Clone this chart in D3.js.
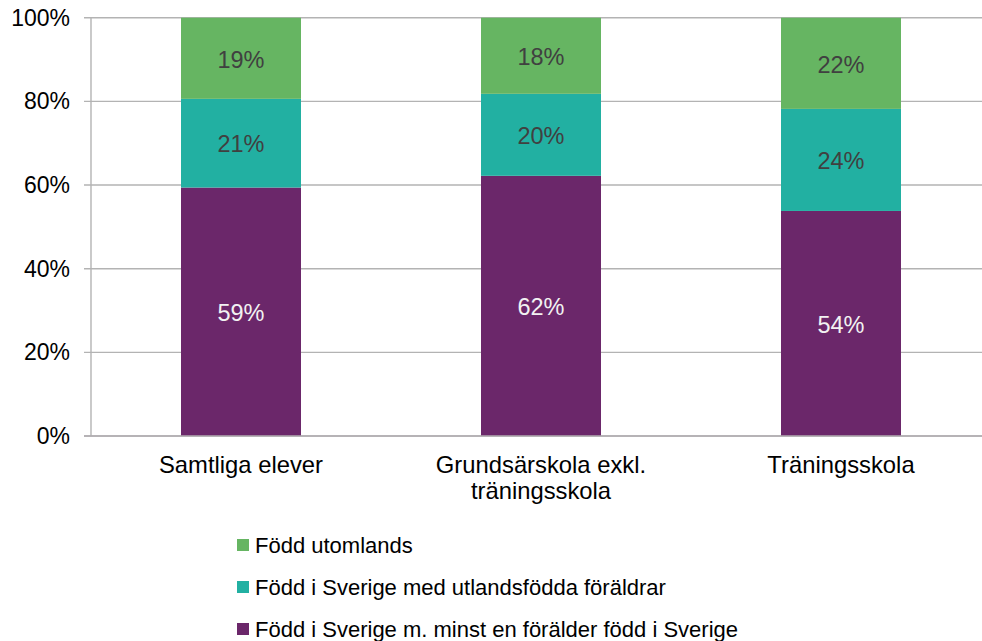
<!DOCTYPE html>
<html><head><meta charset="utf-8">
<script src="https://cdn.jsdelivr.net/npm/d3@7/dist/d3.min.js"></script>
<style>
html,body{margin:0;padding:0;background:#fff;}
svg text{font-family:"Liberation Sans",Arial,sans-serif;}
</style></head>
<body><svg id="c" width="982" height="641"></svg>
<script>
const categories = [["Samtliga elever"], ["Grundsärskola exkl.", "träningsskola"], ["Träningsskola"]];
const seriesNames = ["Född i Sverige m. minst en förälder född i Sverige", "Född i Sverige med utlandsfödda föräldrar", "Född utomlands"];
const seriesColors = ["#6b276a", "#22b0a2", "#66b562"];
const labelColors = ["#f2f2f2", "#404040", "#404040"];
const bornSwedenParent = [59.4, 62.2, 53.8];
const bornSwedenForeign = [21.2, 19.6, 24.4];
const bornAbroad = [19.4, 18.2, 21.8];
const yTicks = [0, 20, 40, 60, 80, 100];

const series = [bornSwedenParent, bornSwedenForeign, bornAbroad];
const svg = d3.select("#c");
const m = {l: 91, t: 17.7, b: 436};
const x = d3.scaleBand().domain(d3.range(categories.length)).range([m.l, m.l + 900]).paddingInner(0.6).paddingOuter(0.3);
const y = d3.scaleLinear().domain([0, 100]).range([m.b, m.t]);

// gridlines
svg.append("g").selectAll("line").data(yTicks).join("line")
  .attr("x1", m.l - 7).attr("x2", 982)
  .attr("y1", d => y(d)).attr("y2", d => y(d))
  .attr("stroke", "#b3b3b3").attr("stroke-width", 1.4);
// y axis line
svg.append("line").attr("x1", m.l).attr("x2", m.l).attr("y1", y(100)).attr("y2", y(0))
  .attr("stroke", "#b3b3b3").attr("stroke-width", 1.4);

// tick labels
svg.append("g").selectAll("text").data(yTicks).join("text")
  .attr("x", 70).attr("y", d => y(d)).attr("dy", "0.35em")
  .attr("text-anchor", "end").attr("font-size", 23).attr("fill", "#000")
  .text(d => d + "%");

// stacked bars
const stackData = categories.map((c, i) => {
  let acc = 0;
  return series.map((s, k) => { const r = {i, k, y0: acc, y1: acc + s[i], v: s[i]}; acc += s[i]; return r; });
}).flat();

svg.append("g").selectAll("rect").data(stackData).join("rect")
  .attr("x", d => x(d.i)).attr("width", x.bandwidth())
  .attr("y", d => y(Math.min(100, d.y1))).attr("height", d => y(d.y0) - y(Math.min(100, d.y1)))
  .attr("fill", d => seriesColors[d.k]);

svg.append("g").selectAll("text").data(stackData).join("text")
  .attr("x", d => x(d.i) + x.bandwidth() / 2)
  .attr("y", d => (y(d.y0) + y(Math.min(100, d.y1))) / 2 + 1).attr("dy", "0.35em")
  .attr("text-anchor", "middle").attr("font-size", 23.5).attr("fill", d => labelColors[d.k])
  .text(d => Math.round(d.v) + "%");

// redraw zero line on top
svg.append("line").attr("x1", m.l - 7).attr("x2", 982).attr("y1", y(0)).attr("y2", y(0))
  .attr("stroke", "#b0acb0").attr("stroke-width", 1.4);

// category labels
const cl = svg.append("g").selectAll("text").data(categories).join("text")
  .attr("x", (d, i) => x(i) + x.bandwidth() / 2).attr("y", 473)
  .attr("text-anchor", "middle").attr("font-size", 23.8).attr("fill", "#000");
cl.selectAll("tspan").data(d => d).join("tspan")
  .attr("x", function() { return this.parentNode.getAttribute("x"); })
  .attr("dy", (d, j) => j === 0 ? 0 : 26).text(d => d);

// legend
const legendOrder = [2, 1, 0];
const lg = svg.append("g").selectAll("g").data(legendOrder).join("g")
  .attr("transform", (d, j) => `translate(237, ${545 + j * 42})`);
lg.append("rect").attr("x", 0).attr("y", -6).attr("width", 12).attr("height", 12)
  .attr("fill", d => seriesColors[d]);
lg.append("text").attr("x", 18).attr("y", 0).attr("dy", "0.35em")
  .attr("font-size", 22).attr("fill", "#000").text(d => seriesNames[d]);
</script></body></html>
